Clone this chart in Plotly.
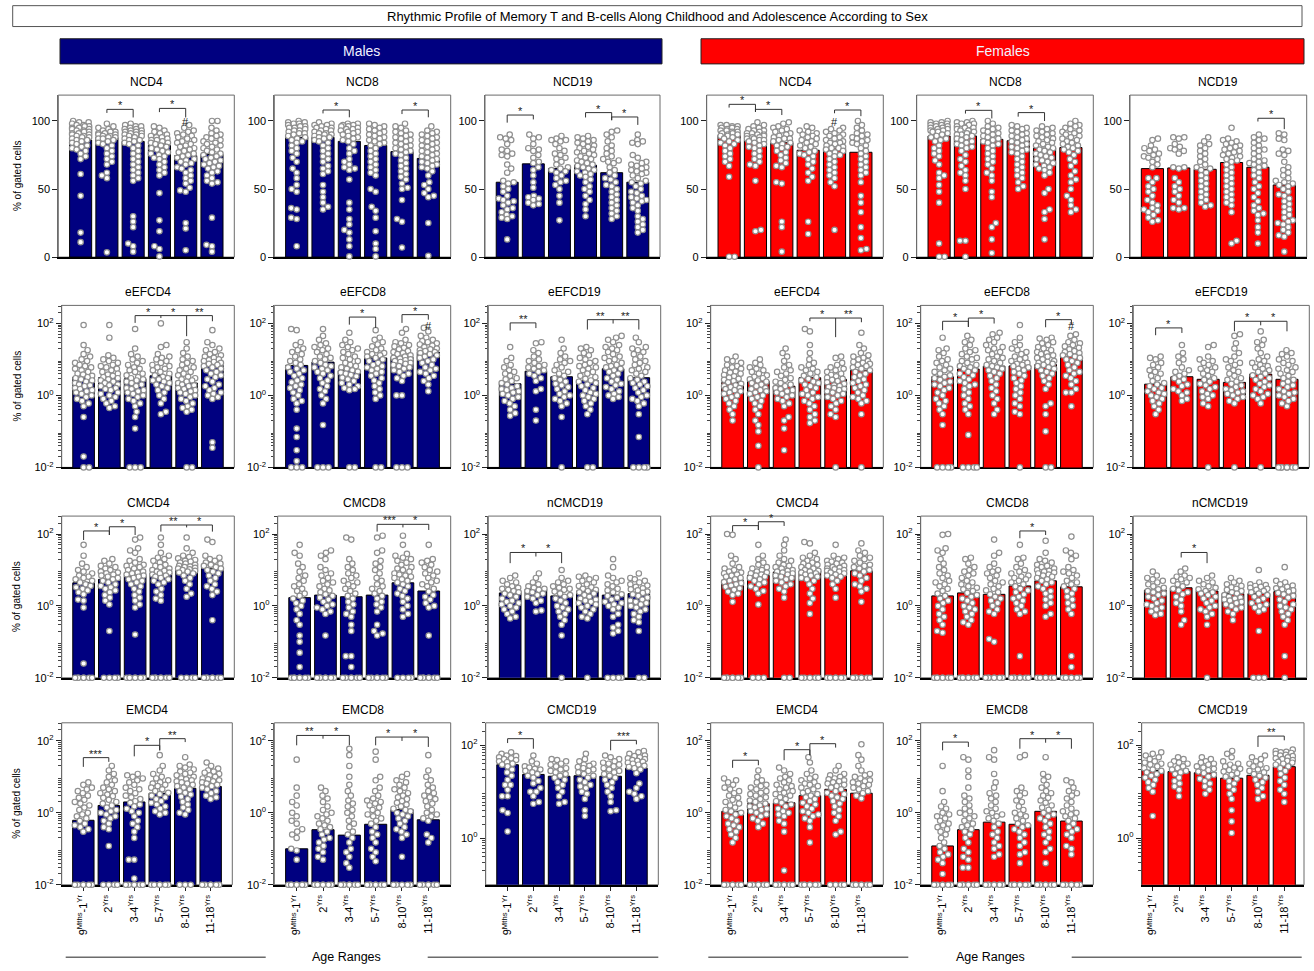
import numpy as np
import plotly.graph_objects as go

# ---------------------------------------------------------------- categories
age_groups = [0, 1, 2, 3, 4, 5]
age_labels = ["9<sup>Mths</sup>-1<sup>Yr</sup>", "2<sup>Yrs</sup>", "3-4<sup>Yrs</sup>",
              "5-7<sup>Yrs</sup>", "8-10<sup>Yrs</sup>", "11-18<sup>Yrs</sup>"]

# ================================================================ MALES
# ---- naive (linear %)
m_ncd4_bar = [86, 88, 85, 82, 74.5, 75.5]
m_ncd4_pts = [
    [100, 99, 99, 98, 97, 97, 96, 96, 95, 95, 94, 94, 93, 93, 92, 92, 91, 91, 90, 90, 89, 89, 88, 88, 87, 86, 86, 85, 84, 83, 82, 81, 80, 79, 78, 76, 74, 72, 61, 45, 18, 11],
    [98, 96, 95, 94, 93, 92, 92, 91, 91, 90, 90, 89, 89, 88, 88, 87, 87, 86, 85, 84, 83, 82, 80, 78, 76, 74, 72, 70, 68, 62, 60, 58, 3.5],
    [98, 97, 96, 96, 95, 94, 94, 93, 93, 92, 92, 91, 91, 90, 90, 89, 89, 88, 87, 86, 86, 85, 84, 83, 82, 80, 78, 76, 74, 72, 70, 68, 66, 64, 62, 60, 58, 56, 30, 26, 22, 10, 8, 4],
    [96, 95, 93, 92, 91, 90, 89, 88, 88, 87, 86, 86, 85, 84, 84, 83, 82, 81, 80, 79, 78, 77, 76, 75, 74, 73, 72, 70, 68, 66, 64, 62, 60, 47, 27, 19, 8, 6, 0.5],
    [97, 95, 93, 92, 91, 90, 89, 88, 87, 86, 85, 84, 83, 82, 81, 80, 79, 78, 77, 76, 75, 74, 73, 72, 71, 70, 69, 68, 66, 65, 64, 62, 60, 58, 56, 54, 51, 49, 48, 25, 21, 5],
    [100, 100, 95, 93, 91, 90, 89, 88, 87, 86, 85, 84, 83, 82, 81, 80, 79, 78, 77, 76, 75, 74, 73, 72, 71, 70, 69, 68, 67, 66, 65, 63, 62, 60, 58, 56, 55, 54, 29, 9, 8, 4],
]
m_ncd8_bar = [88, 88, 85, 82, 77.5, 72.5]
m_ncd8_pts = [
    [100, 99, 99, 98, 98, 97, 96, 96, 95, 95, 94, 93, 93, 92, 91, 91, 90, 89, 88, 87, 86, 85, 84, 82, 80, 78, 76, 73, 70, 65, 62, 58, 53, 50, 48, 36, 35, 29, 28, 8],
    [99, 98, 97, 97, 96, 95, 95, 94, 93, 93, 92, 91, 91, 90, 90, 89, 88, 88, 87, 86, 85, 84, 82, 80, 78, 76, 74, 72, 70, 67, 65, 63, 61, 53, 48, 44, 40, 37, 35],
    [98, 98, 97, 97, 96, 96, 95, 94, 94, 93, 92, 92, 91, 90, 89, 88, 87, 86, 85, 83, 80, 78, 76, 72, 70, 68, 66, 65, 64, 57, 40, 35, 28, 24, 20, 18, 13, 8, 0.5],
    [98, 97, 96, 95, 94, 93, 92, 91, 90, 89, 88, 87, 86, 85, 84, 83, 82, 80, 78, 76, 74, 72, 70, 68, 66, 64, 62, 60, 50, 48, 37, 34, 29, 19, 10, 6, 0.5],
    [98, 96, 95, 93, 92, 91, 90, 89, 88, 87, 86, 85, 84, 83, 82, 81, 80, 79, 78, 77, 76, 75, 73, 71, 69, 67, 65, 63, 61, 59, 57, 54, 51, 50, 42, 28, 26, 7],
    [96, 93, 92, 91, 90, 89, 88, 87, 86, 85, 84, 83, 82, 81, 80, 79, 78, 77, 76, 75, 74, 73, 72, 71, 70, 69, 68, 67, 66, 65, 63, 60, 55, 53, 50, 47, 45, 44, 25, 1],
]
m_ncd19_bar = [55, 68.5, 65, 67.5, 62, 55]
m_ncd19_pts = [
    [90, 88, 87, 86, 83, 79, 78, 76, 75, 74, 68, 65, 62, 56, 55, 54, 52, 50, 48, 45, 43, 42, 41, 40, 38, 36, 35, 33, 31, 30, 29, 28, 13],
    [90, 88, 87, 83, 80, 79, 78, 75, 73, 70, 69, 66, 64, 60, 55, 51, 45, 44, 43, 42, 40, 39, 38],
    [89, 87, 86, 86, 85, 83, 80, 78, 76, 75, 73, 72, 70, 68, 66, 65, 64, 63, 62, 60, 58, 56, 55, 53, 50, 45, 40, 27],
    [89, 88, 87, 86, 85, 84, 83, 82, 81, 80, 79, 78, 77, 76, 75, 74, 73, 72, 71, 70, 69, 68, 67, 66, 65, 64, 63, 62, 61, 60, 59, 57, 55, 52, 50, 48, 45, 42, 39, 35, 30],
    [93, 92, 90, 88, 85, 82, 80, 78, 76, 74, 72, 71, 70, 69, 66, 64, 62, 60, 58, 57, 55, 53, 52, 50, 48, 46, 44, 42, 40, 38, 36, 34, 32, 30, 28],
    [90, 86, 85, 84, 83, 75, 73, 70, 69, 68, 67, 66, 65, 64, 63, 62, 61, 60, 58, 56, 55, 54, 52, 50, 48, 47, 45, 44, 43, 42, 41, 40, 38, 36, 34, 30, 28, 26, 24, 22, 20, 18],
]
# ---- effector (log %)
m_eefcd4_bar = [3.2, 3.1, 2.9, 3.5, 2.2, 6.8]
m_eefcd4_pts = [
    [90, 25, 18, 14, 12, 10, 9, 8, 7, 6.5, 6, 5.5, 5, 4.5, 4, 3.8, 3.5, 3.2, 3, 2.8, 2.6, 2.4, 2.2, 2, 1.9, 1.8, 1.6, 1.5, 1.4, 1.3, 1.2, 1.1, 1, 0.9, 0.8, 0.7, 0.6, 0.5, 0.25, 0.02, 0, 0],
    [90, 40, 13, 11, 10, 9, 8, 7, 6.5, 6, 5.5, 5, 4.5, 4, 3.8, 3.5, 3.2, 3, 2.8, 2.6, 2.4, 2.2, 2, 1.9, 1.8, 1.6, 1.5, 1.4, 1.2, 1.1, 1, 0.9, 0.8, 0.7, 0.6, 0.5, 0.45],
    [70, 20, 14, 12, 10, 9, 8, 7, 6, 5.5, 5, 4.5, 4, 3.6, 3.2, 3, 2.8, 2.6, 2.4, 2.2, 2, 1.8, 1.6, 1.5, 1.4, 1.3, 1.2, 1.1, 1, 0.9, 0.8, 0.7, 0.6, 0.5, 0.35, 0.25, 0.12, 0, 0, 0],
    [100, 25, 22, 14, 12, 11, 10, 9, 8, 7, 6.5, 6, 5.5, 5, 4.5, 4, 3.6, 3.3, 3, 2.8, 2.6, 2.4, 2.2, 2, 1.8, 1.6, 1.4, 1.2, 1, 0.8, 0.6, 0.35, 0.3],
    [30, 20, 15, 12, 10, 9, 8, 7, 6, 5.5, 5, 4.5, 4, 3.6, 3.3, 3, 2.8, 2.6, 2.4, 2.2, 2, 1.9, 1.8, 1.6, 1.5, 1.4, 1.3, 1.2, 1.1, 1, 0.9, 0.8, 0.7, 0.6, 0.5, 0.45, 0.4, 0.35, 0, 0],
    [65, 30, 25, 20, 18, 16, 14, 13, 12, 11, 10, 9.5, 9, 8.5, 8, 7.5, 7, 6.5, 6, 5.5, 5, 4.5, 4, 3.6, 3.2, 2.8, 2.4, 2, 1.8, 1.6, 1.4, 1.2, 1.1, 1, 0.9, 0.8, 0.05, 0.035],
]
m_eefcd8_bar = [6.8, 8.4, 4.9, 11, 11.5, 16]
m_eefcd8_pts = [
    [70, 65, 30, 25, 20, 18, 16, 14, 12, 10, 9, 8, 7, 6, 5.5, 5, 4.5, 4, 3.5, 3, 2.6, 2.3, 2, 1.8, 1.6, 1.4, 1.2, 1, 0.8, 0.7, 0.6, 0.4, 0.12, 0.07, 0.03, 0.015, 0, 0, 0],
    [70, 45, 35, 28, 25, 22, 20, 18, 16, 14, 12, 11, 10, 9, 8, 7, 6.5, 6, 5.5, 5, 4.5, 4, 3.5, 3, 2.6, 2.2, 1.8, 1.5, 1.3, 1, 0.8, 0.6, 0.15, 0, 0, 0],
    [55, 35, 30, 25, 22, 20, 18, 16, 14, 12, 11, 10, 9, 8, 7, 6.5, 6, 5.5, 5, 4.6, 4.3, 4, 3.7, 3.4, 3.1, 2.8, 2.5, 2.2, 2, 1.8, 1.6, 1.5, 1.4, 0, 0],
    [65, 40, 35, 30, 26, 23, 20, 18, 16, 15, 14, 13, 12, 11, 10, 9, 8, 7, 6.5, 6, 5.5, 5, 4.5, 4, 3.5, 3, 2.6, 2.2, 1.8, 1.5, 1.2, 1, 0.8, 0, 0],
    [70, 55, 35, 30, 28, 25, 23, 21, 19, 17, 16, 15, 14, 13, 12, 11, 10.5, 10, 9.5, 9, 8.5, 8, 7.5, 7, 6.5, 6, 5.5, 5, 4.5, 4, 3.5, 3, 2.5, 1, 1, 0, 0, 0],
    [75, 60, 45, 40, 35, 32, 30, 28, 26, 24, 22, 20, 19, 18, 17, 16, 15, 14, 13, 12, 11, 10, 9, 8, 7, 6, 5.5, 5, 4.5, 4, 3.5, 3, 2.5, 2, 1.3],
]
m_eefcd19_bar = [2.1, 4.7, 3.3, 2.6, 5.5, 3.1]
m_eefcd19_pts = [
    [22, 11, 9, 7, 6, 5, 4.5, 4, 3.5, 3, 2.8, 2.5, 2.2, 2, 1.8, 1.6, 1.5, 1.4, 1.3, 1.2, 1.1, 1, 0.9, 0.8, 0.7, 0.6, 0.5, 0.4, 0.32, 0.27],
    [30, 28, 18, 15, 12, 10, 9, 8, 7, 6.5, 6, 5.5, 5, 4.5, 4, 3.5, 3, 2.5, 1.5, 1.3, 0.4, 0.2],
    [35, 20, 15, 12, 10, 9, 8, 7, 6, 5, 4.5, 4, 3.5, 3, 2.7, 2.4, 2.1, 1.9, 1.7, 1.5, 1.3, 1.1, 1, 0.9, 0.8, 0.7, 0.6, 0.5, 0.25, 0],
    [22, 20, 18, 15, 13, 11, 10, 9, 8, 7, 6.5, 6, 5.5, 5, 4.5, 4, 3.5, 3.2, 2.9, 2.6, 2.4, 2.2, 2, 1.8, 1.6, 1.4, 1.2, 1.1, 1, 0.9, 0.8, 0.7, 0.6, 0.5, 0.4, 0.3, 0, 0],
    [45, 40, 35, 30, 25, 22, 20, 18, 16, 14, 12, 11, 10, 9, 8, 7, 6.5, 6, 5.5, 5, 4.5, 4, 3.5, 3, 2.7, 2.4, 2.1, 1.9, 1.7, 1.5, 1.3, 1.1, 1, 0.9, 0.8],
    [40, 30, 22, 20, 18, 16, 14, 12, 10, 9, 8, 7, 6, 5.5, 5, 4.5, 4, 3.5, 3, 2.7, 2.4, 2.2, 2, 1.8, 1.6, 1.4, 1.2, 1, 0.9, 0.8, 0.7, 0.6, 0.5, 0.3, 0.07, 0, 0, 0, 0],
]
# ---- central memory (log %)
m_cmcd4_bar = [4.4, 5.5, 6.7, 8.3, 11.4, 11]
m_cmcd4_pts = [
    [50, 25, 15, 12, 10, 9, 8, 7, 6.5, 6, 5.5, 5, 4.5, 4, 3.6, 3.3, 3, 2.7, 2.4, 2.1, 1.5, 1.4, 0.9, 0.025, 0, 0, 0, 0, 0, 0, 0],
    [20, 18, 15, 13, 12, 11, 10, 9, 8.5, 8, 7.5, 7, 6.5, 6, 5.5, 5, 4.5, 4, 3.6, 3.3, 3, 2.7, 2.4, 2, 1.7, 1.4, 1.1, 0.2, 0, 0, 0, 0],
    [80, 70, 40, 35, 30, 20, 18, 16, 14, 13, 12, 11, 10, 9, 8.5, 8, 7.5, 7, 6.5, 6, 5.5, 5, 4.5, 4, 3.5, 3, 2.5, 2, 1.7, 1.4, 1.1, 0.9, 0.16, 0, 0, 0, 0, 0, 0, 0],
    [80, 50, 30, 25, 22, 20, 18, 16, 14, 13, 12, 11, 10, 9.5, 9, 8.5, 8, 7.5, 7, 6.5, 6, 5.5, 5, 4.5, 4, 3, 2.5, 2, 1.6, 1.4, 0, 0, 0, 0, 0, 0, 0],
    [80, 40, 30, 25, 23, 21, 19, 18, 17, 16, 15, 14, 13, 12.5, 12, 11.5, 11, 10.5, 10, 9.5, 9, 8.5, 8, 7, 6, 5, 4, 3, 2.2, 1.8, 0, 0, 0, 0],
    [70, 60, 25, 22, 20, 18, 16, 15, 14, 13, 12, 11, 10, 9, 8, 7, 6, 5, 4, 3.5, 3, 2.5, 2, 0.4, 0, 0, 0, 0, 0, 0, 0],
]
m_cmcd8_bar = [1.7, 2.0, 1.8, 2.0, 4.4, 2.6]
m_cmcd8_pts = [
    [50, 30, 25, 15, 12, 9, 7, 6, 5, 4, 3.5, 3, 2.6, 2.2, 1.9, 1.6, 1.4, 1.2, 1, 0.8, 0.6, 0.4, 0.3, 0.15, 0.1, 0.05, 0.02, 0, 0, 0, 0, 0, 0, 0],
    [35, 30, 25, 20, 12, 10, 8, 7, 6, 5, 4.5, 4, 3.5, 3, 2.7, 2.4, 2.1, 1.9, 1.7, 1.5, 1.3, 1.1, 1, 0.9, 0.8, 0.7, 0.6, 0.15, 0, 0, 0, 0, 0, 0, 0],
    [80, 70, 20, 15, 12, 10, 8, 7, 6, 5, 4.5, 4, 3.5, 3, 2.6, 2.2, 1.9, 1.6, 1.3, 1.1, 0.9, 0.7, 0.6, 0.5, 0.3, 0.2, 0.04, 0.04, 0.02, 0, 0, 0, 0, 0, 0],
    [90, 80, 35, 30, 18, 15, 12, 10, 8, 6, 5, 4, 3.5, 3, 2.6, 2.2, 1.9, 1.6, 1.3, 1.1, 0.9, 0.7, 0.3, 0.2, 0.17, 0.15, 0, 0, 0, 0, 0, 0],
    [90, 50, 28, 25, 22, 20, 18, 16, 14, 12, 11, 10, 9, 8, 7.5, 7, 6.5, 6, 5.5, 5, 4.5, 4, 3.5, 3, 2.6, 2.2, 1.9, 1.6, 1.3, 1, 0.8, 0.6, 0.5, 0, 0, 0, 0],
    [50, 20, 18, 16, 14, 12, 10, 9, 8, 7, 6, 5, 4.5, 4, 3.5, 3, 2.5, 2, 1.8, 1.5, 1.2, 1, 0.9, 0.15, 0, 0, 0, 0, 0, 0, 0],
]
m_ncmcd19_bar = [2.3, 2.9, 1.9, 2.6, 2.0, 2.2]
m_ncmcd19_pts = [
    [7, 6, 5, 4.5, 4, 3.5, 3.2, 3, 2.8, 2.6, 2.4, 2.2, 2, 1.8, 1.6, 1.4, 1.3, 1.2, 1.1, 1, 0.9, 0.8, 0.7, 0.6, 0.5, 0.45],
    [8, 6, 4.5, 4, 3.5, 3.2, 3, 2.8, 2.6, 2.4, 2.2, 2, 1.8, 1.6, 1.4, 1.2, 0.75, 0.7],
    [10, 6, 5, 4.5, 4, 3.5, 3.2, 3, 2.8, 2.5, 2.2, 2, 1.8, 1.6, 1.4, 1.2, 1, 0.9, 0.8, 0.7, 0.6, 0.5, 0.4, 0.3, 0.15, 0],
    [7, 6.5, 6, 5.5, 5, 4.5, 4, 3.6, 3.3, 3, 2.8, 2.6, 2.4, 2.2, 2, 1.8, 1.6, 1.5, 1.4, 1.3, 1.2, 1.1, 1, 0.9, 0.8, 0.7, 0.6, 0.5, 0.45, 0],
    [20, 12, 7, 6, 5, 4.5, 4, 3.5, 3, 2.7, 2.4, 2.1, 1.9, 1.7, 1.5, 1.3, 1.2, 1.1, 1, 0.9, 0.8, 0.6, 0.5, 0.3, 0.25, 0.2, 0.17, 0, 0, 0, 0],
    [8, 6, 5.5, 5, 4.5, 4, 3.7, 3.4, 3.1, 2.9, 2.7, 2.5, 2.3, 2.1, 1.9, 1.7, 1.5, 1.4, 1.3, 1.2, 1.1, 1, 0.9, 0.8, 0.7, 0.6, 0.5, 0.4, 0.35, 0.2, 0, 0],
]
# ---- effector memory (log %)
m_emcd4_bar = [0.62, 1.6, 2.0, 3.5, 4.8, 5.4]
m_emcd4_pts = [
    [7, 6, 5, 4.5, 4, 3.5, 3, 2.6, 2.3, 2, 1.8, 1.6, 1.4, 1.2, 1, 0.9, 0.8, 0.7, 0.6, 0.5, 0.45, 0.4, 0.35, 0.3, 0, 0, 0, 0, 0, 0],
    [20, 15, 12, 10, 8, 7, 6, 5, 4.5, 4, 3.5, 3.2, 2.9, 2.6, 2.3, 2, 1.8, 1.6, 1.4, 1.2, 1.1, 1, 0.9, 0.8, 0.7, 0.6, 0.5, 0.4, 0.35, 0.12, 0, 0, 0, 0],
    [12, 11, 10, 9, 8, 7, 6, 5, 4.5, 4, 3.5, 3, 2.7, 2.4, 2.1, 1.9, 1.7, 1.5, 1.3, 1.1, 1, 0.8, 0.6, 0.5, 0.4, 0.3, 0.2, 0.05, 0.05, 0.015, 0, 0, 0, 0, 0, 0],
    [40, 20, 15, 12, 10, 9, 8, 7, 6.5, 6, 5.5, 5, 4.5, 4, 3.6, 3.3, 3, 2.7, 2.4, 2.1, 1.9, 1.7, 1.5, 1.3, 1.1, 1, 0.9, 0, 0, 0, 0, 0, 0],
    [35, 22, 20, 18, 16, 14, 13, 12, 11, 10, 9, 8.5, 8, 7.5, 7, 6.5, 6, 5.5, 5, 4.5, 4, 3.6, 3.2, 2.8, 2.4, 2, 1.7, 1.4, 1.2, 1, 0.9, 0, 0, 0],
    [25, 20, 17, 15, 14, 13, 12, 11, 10, 9, 8.5, 8, 7.5, 7, 6.5, 6, 5.5, 5, 4.5, 4, 3.5, 3, 2.7, 2.4, 0, 0, 0, 0, 0, 0],
]
m_emcd8_bar = [0.1, 0.34, 0.24, 0.48, 1.23, 0.64]
m_emcd8_pts = [
    [30, 5, 3, 2, 1.6, 1, 0.8, 0.6, 0.5, 0.35, 0.3, 0.25, 0.2, 0.1, 0.09, 0.05, 0, 0, 0, 0, 0, 0, 0, 0],
    [5, 4, 3, 2.5, 2, 1.5, 1.2, 1, 0.9, 0.8, 0.7, 0.6, 0.5, 0.45, 0.4, 0.35, 0.3, 0.25, 0.2, 0.18, 0.15, 0.12, 0.1, 0.08, 0.06, 0.05, 0, 0, 0, 0, 0, 0, 0],
    [60, 40, 20, 10, 6, 4, 3, 2.2, 1.8, 1.5, 1.2, 1, 0.8, 0.6, 0.5, 0.4, 0.3, 0.25, 0.2, 0.15, 0.1, 0.08, 0.06, 0.04, 0.03, 0, 0, 0, 0, 0, 0, 0],
    [50, 30, 10, 8, 5, 4, 3, 2.5, 2.2, 2, 1.8, 1.6, 1.4, 1.2, 1, 0.9, 0.8, 0.7, 0.6, 0.5, 0.4, 0.3, 0.25, 0.2, 0.15, 0.1, 0.08, 0.06, 0.045, 0, 0, 0, 0, 0, 0, 0],
    [12, 10, 8, 7, 6, 5, 4.5, 4, 3.5, 3, 2.7, 2.4, 2.1, 1.9, 1.7, 1.5, 1.3, 1.2, 1.1, 1, 0.9, 0.8, 0.7, 0.6, 0.5, 0.4, 0.35, 0.3, 0.25, 0.2, 0.06, 0, 0, 0, 0, 0],
    [40, 15, 10, 8, 6, 5, 4, 3.5, 3, 2.7, 2.4, 2.1, 1.8, 1.5, 1.2, 1, 0.9, 0.8, 0.7, 0.6, 0.25, 0.2, 0.15, 0, 0, 0, 0, 0, 0],
]
m_cmcd19_bar = [38, 23.5, 21.5, 22, 21.5, 32]
m_cmcd19_pts = [
    [70, 65, 60, 58, 55, 52, 50, 48, 45, 43, 40, 38, 35, 30, 26, 22, 18, 14, 14, 11, 8, 8, 4, 3.5, 1.4],
    [60, 45, 40, 35, 33, 31, 30, 28, 26, 24, 22, 20, 17, 15, 12, 10, 10, 8, 6, 5.5],
    [50, 48, 45, 40, 38, 35, 32, 30, 28, 26, 24, 22, 20, 18, 16, 14, 12, 10, 8, 6, 5.5],
    [65, 50, 45, 40, 38, 36, 34, 32, 30, 28, 26, 24, 22, 20, 18, 16, 14, 13, 12, 10, 9, 7, 4, 3],
    [60, 55, 50, 45, 42, 40, 38, 35, 32, 30, 28, 26, 24, 22, 20, 18, 16, 14, 12, 10, 8, 6, 4, 3.8],
    [75, 70, 65, 60, 58, 55, 52, 50, 48, 46, 44, 42, 40, 38, 36, 34, 32, 30, 25, 15, 12, 10, 9, 8, 7],
]

# ================================================================ FEMALES
f_ncd4_bar = [89.5, 86, 84, 78.5, 80, 77]
f_ncd4_pts = [
    [97, 97, 96, 96, 95, 95, 94, 94, 93, 93, 92, 92, 91, 91, 90, 90, 89, 89, 88, 87, 86, 85, 84, 83, 82, 80, 78, 76, 74, 72, 70, 67, 59, 0.3, 0.3],
    [99, 97, 96, 95, 94, 93, 93, 92, 91, 91, 90, 90, 89, 89, 88, 88, 87, 87, 86, 86, 85, 84, 83, 82, 81, 80, 78, 76, 74, 72, 70, 68, 67, 56, 20, 19],
    [99, 98, 96, 95, 94, 93, 92, 91, 90, 89, 88, 87, 87, 86, 85, 84, 83, 82, 81, 80, 78, 77, 75, 73, 71, 69, 67, 66, 55, 54, 26, 22, 4],
    [96, 95, 93, 92, 91, 90, 89, 88, 87, 86, 85, 84, 83, 82, 81, 80, 78, 77, 76, 75, 74, 72, 70, 68, 65, 62, 59, 56, 26, 17],
    [95, 94, 93, 92, 91, 90, 89, 88, 87, 86, 85, 84, 84, 83, 82, 81, 80, 80, 79, 78, 77, 76, 75, 74, 72, 70, 68, 66, 64, 62, 60, 58, 55, 52, 20],
    [100, 97, 95, 93, 91, 90, 89, 88, 87, 86, 85, 84, 83, 82, 80, 78, 76, 74, 72, 70, 68, 66, 64, 62, 60, 55, 45, 40, 33, 22, 14, 6, 5],
]
f_ncd8_bar = [89, 89, 86.5, 85.5, 80, 80.5]
f_ncd8_pts = [
    [100, 99, 99, 98, 98, 97, 97, 96, 96, 95, 95, 94, 94, 93, 93, 92, 92, 91, 90, 89, 88, 87, 86, 85, 82, 80, 78, 76, 74, 71, 68, 62, 60, 58, 53, 48, 40, 10, 0.3, 0.3],
    [100, 99, 99, 98, 98, 97, 96, 95, 95, 94, 93, 93, 92, 91, 90, 90, 89, 88, 87, 86, 85, 84, 83, 82, 81, 80, 78, 75, 72, 70, 67, 64, 62, 60, 56, 50, 12, 12, 0.3],
    [100, 98, 96, 95, 94, 93, 92, 91, 90, 89, 88, 87, 86, 85, 84, 83, 82, 80, 78, 76, 74, 72, 70, 68, 65, 62, 60, 56, 48, 44, 25, 22, 13, 3],
    [97, 96, 95, 94, 93, 92, 91, 90, 89, 88, 87, 86, 85, 84, 83, 82, 81, 80, 79, 78, 77, 76, 74, 72, 70, 68, 66, 64, 62, 60, 58, 55, 52, 50],
    [96, 95, 94, 93, 92, 91, 90, 89, 88, 87, 86, 85, 84, 83, 82, 81, 80, 79, 78, 77, 76, 75, 74, 73, 72, 71, 70, 69, 68, 67, 66, 65, 64, 62, 60, 50, 47, 35, 33, 28, 13],
    [100, 98, 97, 96, 95, 94, 93, 92, 91, 90, 89, 88, 87, 86, 85, 84, 83, 82, 81, 80, 79, 78, 77, 75, 72, 70, 67, 63, 60, 57, 55, 50, 45, 42, 38, 35, 33],
]
f_ncd19_bar = [65, 65.5, 64.5, 69.5, 66, 53]
f_ncd19_pts = [
    [87, 86, 82, 80, 79, 78, 76, 75, 74, 73, 72, 70, 68, 66, 58, 58, 55, 52, 50, 48, 45, 42, 40, 38, 36, 35, 34, 33, 31, 29, 27, 26],
    [88, 88, 87, 83, 81, 80, 79, 78, 76, 66, 66, 65, 58, 55, 52, 50, 48, 45, 42, 40, 36, 36, 35],
    [88, 85, 83, 82, 80, 78, 76, 74, 72, 70, 68, 66, 65, 64, 62, 60, 58, 56, 54, 52, 50, 48, 46, 44, 42, 40, 38, 37],
    [95, 87, 86, 85, 84, 83, 82, 81, 80, 79, 78, 77, 76, 75, 74, 73, 72, 71, 70, 68, 66, 64, 62, 60, 58, 56, 54, 52, 50, 48, 46, 44, 42, 40, 38, 33, 12, 10],
    [90, 88, 87, 86, 84, 82, 80, 79, 78, 76, 74, 72, 71, 70, 69, 68, 67, 66, 64, 62, 60, 58, 55, 52, 50, 47, 44, 41, 38, 36, 34, 32, 31, 27, 22, 18, 10],
    [91, 90, 87, 86, 79, 78, 76, 75, 70, 66, 64, 62, 60, 58, 56, 55, 54, 53, 52, 50, 48, 46, 45, 43, 41, 39, 37, 35, 33, 31, 29, 27, 26, 25, 24, 22, 20, 18, 16, 15, 4],
]
f_eefcd4_bar = [2.3, 2.5, 1.8, 3.1, 2.8, 5]
f_eefcd4_pts = [
    [12, 10, 9, 8, 7, 6.5, 6, 5.5, 5, 4.6, 4.3, 4, 3.7, 3.4, 3.1, 2.9, 2.7, 2.5, 2.3, 2.1, 1.9, 1.8, 1.7, 1.6, 1.5, 1.4, 1.3, 1.2, 1.1, 1, 0.9, 0.8, 0.7, 0.6, 0.5, 0.4, 0.3, 0.2],
    [10, 8, 7, 6, 5.5, 5, 4.5, 4, 3.6, 3.3, 3, 2.8, 2.6, 2.4, 2.2, 2, 1.8, 1.6, 1.5, 1.4, 1.3, 1.2, 1.1, 1, 0.9, 0.8, 0.7, 0.6, 0.5, 0.4, 0.3, 0.2, 0.15, 0.1, 0.04, 0],
    [20, 15, 12, 9, 7, 6, 5, 4.5, 4, 3.5, 3, 2.7, 2.4, 2.2, 2, 1.8, 1.6, 1.5, 1.4, 1.3, 1.2, 1.1, 1, 0.9, 0.8, 0.7, 0.6, 0.5, 0.25, 0.2, 0.12, 0.03],
    [70, 60, 25, 15, 10, 8, 7, 6, 5.5, 5, 4.5, 4, 3.5, 3.2, 2.9, 2.6, 2.4, 2.2, 2, 1.8, 1.6, 1.4, 1.2, 1.1, 1, 0.9, 0.8, 0.7, 0.6, 0.5, 0.4, 0.3, 0.25, 0.2, 0.17],
    [12, 11, 8, 7, 6, 5.5, 5, 4.5, 4, 3.7, 3.4, 3.1, 2.9, 2.7, 2.5, 2.3, 2.1, 1.9, 1.8, 1.7, 1.6, 1.5, 1.4, 1.3, 1.2, 1.1, 1, 0.9, 0.8, 0.7, 0.6, 0.5, 0.4, 0.3, 0.25, 0],
    [55, 25, 20, 15, 13, 12, 11, 10, 9, 8.5, 8, 7.5, 7, 6.5, 6, 5.5, 5, 4.5, 4, 3.6, 3.2, 2.8, 2.5, 2.2, 2, 1.8, 1.6, 1.4, 1.2, 1, 0.9, 0.8, 0.7, 0.6, 0.3, 0],
]
f_eefcd8_bar = [3.3, 5.4, 6.5, 6.6, 7.2, 12.2]
f_eefcd8_pts = [
    [40, 20, 18, 15, 12, 10, 9, 8, 7, 6, 5.5, 5, 4.5, 4, 3.6, 3.3, 3, 2.7, 2.4, 2.2, 2, 1.8, 1.6, 1.4, 1.2, 1, 0.8, 0.7, 0.6, 0.5, 0.4, 0.3, 0.15, 0, 0, 0, 0],
    [45, 35, 30, 25, 20, 18, 16, 14, 12, 11, 10, 9, 8, 7, 6.5, 6, 5.5, 5, 4.5, 4, 3.6, 3.2, 2.8, 2.5, 2.2, 2, 1.8, 1.5, 1.2, 1, 0.8, 0.6, 0.5, 0.4, 0.3, 0.08, 0, 0, 0, 0],
    [55, 50, 40, 35, 30, 25, 22, 20, 18, 16, 14, 12, 11, 10, 9, 8, 7, 6.5, 6, 5.5, 5, 4.5, 4, 3.5, 3, 2.5, 2, 1.6, 1.3, 1, 0.8, 0.6, 0.4, 0.3],
    [90, 40, 30, 25, 20, 18, 16, 14, 12, 11, 10, 9, 8, 7.5, 7, 6.5, 6, 5.5, 5, 4.5, 4, 3.5, 3, 2.6, 2.2, 1.8, 1.5, 1.2, 1, 0.8, 0.6, 0.5, 0.35, 0.3, 0],
    [40, 38, 35, 30, 28, 25, 22, 20, 18, 16, 15, 14, 13, 12, 11, 10, 9, 8.5, 8, 7.5, 7, 6.5, 6, 5.5, 5, 4.5, 4, 3.5, 3, 2.5, 2, 1.5, 0.6, 0.5, 0.3, 0.1, 0, 0],
    [50, 45, 35, 30, 28, 25, 23, 21, 19, 17, 16, 15, 14, 13, 12, 11, 10, 9, 8, 7, 6, 5, 4.5, 4, 3.5, 3, 2.5, 2, 1.5, 1.2, 1.2, 0.5],
]
f_eefcd19_bar = [2.05, 3.3, 2.8, 2.3, 3.9, 2.8]
f_eefcd19_pts = [
    [12, 11, 10, 8, 7, 6, 5, 4.5, 4, 3.5, 3, 2.5, 2.2, 2, 1.8, 1.6, 1.5, 1.3, 1.2, 1.1, 1, 0.9, 0.8, 0.7, 0.6, 0.5, 0.4, 0.3],
    [25, 15, 12, 10, 8, 6, 5, 4.5, 4, 3.5, 3, 2.8, 2.4, 2, 1.8, 1.5, 1.3, 1.2, 1, 0.8, 0.7],
    [25, 22, 12, 10, 9, 8, 7, 6, 5.5, 5, 4.5, 4, 3.5, 3, 2.7, 2.4, 2.1, 1.9, 1.7, 1.5, 1.3, 1.1, 1, 0.9, 0.8, 0.6, 0.5, 0],
    [50, 45, 28, 20, 15, 12, 10, 9, 8, 7, 6, 5, 4.5, 4, 3.5, 3, 2.7, 2.4, 2.1, 1.9, 1.7, 1.5, 1.4, 1.3, 1.2, 1.1, 1, 0.9, 0.8, 0.7, 0.6, 0],
    [60, 35, 30, 25, 20, 15, 12, 10, 9, 8, 7, 6.5, 6, 5.5, 5, 4.5, 4, 3.6, 3.3, 3, 2.7, 2.4, 2.1, 1.9, 1.7, 1.5, 1.3, 1.1, 1, 0.9, 0.8, 0.6, 0],
    [18, 15, 14, 12, 10, 9, 8, 7, 6, 5.5, 5, 4.5, 4, 3.5, 3, 2.7, 2.4, 2.1, 1.9, 1.7, 1.5, 1.3, 1.2, 1.1, 1, 0.9, 0.8, 0.7, 0.6, 0.5, 0, 0, 0, 0, 0, 0, 0],
]
f_cmcd4_bar = [5.2, 7.1, 8.8, 9.4, 11, 9.5]
f_cmcd4_pts = [
    [100, 95, 25, 20, 15, 12, 11, 10, 9, 8.5, 8, 7.5, 7, 6.5, 6, 5.5, 5, 4.6, 4.3, 4, 3.7, 3.4, 3.1, 2.8, 2.5, 2.2, 2, 1.3, 0, 0, 0, 0, 0, 0, 0],
    [50, 25, 20, 16, 14, 12, 11, 10, 9, 8.5, 8, 7.5, 7, 6.5, 6, 5.5, 5, 4.5, 4, 3.5, 3, 2.6, 2.2, 1.1, 0, 0, 0],
    [70, 50, 35, 25, 20, 18, 16, 14, 13, 12, 11, 10, 9.5, 9, 8.5, 8, 7.5, 7, 6.5, 6, 5.5, 5, 4.5, 4, 3.5, 3, 2.5, 1.7, 0, 0],
    [60, 55, 30, 25, 22, 20, 18, 16, 15, 14, 13, 12, 11, 10, 9.5, 9, 8.5, 8, 7.5, 7, 6.5, 6, 5.5, 5, 4, 3, 2.2, 1.6, 1.2, 0.6, 0, 0, 0, 0, 0],
    [50, 25, 22, 20, 18, 17, 16, 15, 14, 13, 12, 11.5, 11, 10.5, 10, 9.5, 9, 8.5, 8, 7.5, 7, 6.5, 6, 5, 4, 3, 1.7, 0, 0, 0, 0, 0, 0],
    [55, 35, 30, 25, 22, 20, 18, 16, 14, 13, 12, 11, 10, 9, 8, 7, 6, 5, 4, 3.5, 3, 2.5, 1.3, 0, 0, 0, 0, 0, 0, 0],
]
f_cmcd8_bar = [1.9, 2.3, 2.1, 3.6, 5.0, 3.4]
f_cmcd8_pts = [
    [100, 95, 40, 35, 30, 20, 15, 12, 10, 8, 7, 6, 5, 4.5, 4, 3.5, 3, 2.6, 2.2, 1.9, 1.6, 1.4, 1.2, 1, 0.8, 0.6, 0.5, 0.4, 0.3, 0.2, 0.18, 0, 0, 0, 0, 0, 0, 0],
    [22, 20, 15, 12, 10, 9, 8, 7, 6, 5, 4.5, 4, 3.5, 3.2, 2.9, 2.6, 2.3, 2, 1.8, 1.6, 1.4, 1.2, 1, 0.9, 0.8, 0.7, 0.6, 0.5, 0.4, 0.35, 0.3, 0, 0, 0, 0, 0, 0, 0],
    [70, 30, 25, 15, 12, 10, 9, 8, 7, 6, 5, 4.5, 4, 3.5, 3, 2.7, 2.4, 2.1, 1.8, 1.6, 1.4, 1.2, 1, 0.8, 0.7, 0.6, 0.12, 0.1, 0, 0, 0, 0, 0, 0, 0],
    [50, 22, 20, 15, 12, 10, 9, 8, 7, 6.5, 6, 5.5, 5, 4.5, 4, 3.5, 3, 2.7, 2.4, 2.1, 1.8, 1.6, 1.4, 1.2, 1, 0.8, 0.7, 0.6, 0.04, 0, 0, 0, 0, 0, 0, 0],
    [65, 30, 20, 18, 16, 14, 13, 12, 11, 10, 9.5, 9, 8.5, 8, 7.5, 7, 6.5, 6, 5.5, 5, 4.5, 4, 3.5, 3, 2.6, 2.2, 1.8, 1.5, 1.2, 1, 0.6, 0.5, 0, 0, 0, 0, 0, 0],
    [85, 35, 30, 25, 20, 12, 10, 9, 8, 7, 6, 5, 4.5, 4, 3.5, 3, 2.6, 2.2, 1.8, 1.5, 1.2, 1, 0.8, 0.6, 0.04, 0.02, 0, 0, 0, 0, 0, 0, 0],
]
f_ncmcd19_bar = [2.75, 3.2, 2.6, 2.2, 2.2, 2.5]
f_ncmcd19_pts = [
    [9, 7, 6, 5.5, 5, 4.5, 4, 3.5, 3.2, 2.9, 2.6, 2.4, 2.2, 2, 1.8, 1.6, 1.4, 1.2, 1.1, 1, 0.9, 0.8, 0.7, 0.6, 0.55],
    [11, 9, 7, 6.5, 6, 5.5, 5, 4.5, 4, 3.5, 3, 2.7, 2.4, 2.1, 1.8, 1.5, 1.2, 1, 0.7, 0.4, 0.3],
    [7, 6, 5, 4.5, 4, 3.5, 3.2, 2.9, 2.6, 2.4, 2.2, 2, 1.8, 1.6, 1.4, 1.2, 1, 0.9, 0.8, 0.7, 0.6, 0.5, 0.3, 0],
    [6, 5, 4.5, 4, 3.6, 3.3, 3, 2.8, 2.6, 2.4, 2.2, 2, 1.8, 1.7, 1.6, 1.5, 1.4, 1.3, 1.2, 1.1, 1, 0.9, 0.8, 0.7, 0.6, 0.4],
    [10, 4.5, 4, 3.8, 3.6, 3.4, 3.2, 3, 2.8, 2.6, 2.4, 2.2, 2, 1.8, 1.6, 1.4, 1.2, 1.1, 1, 0.9, 0.8, 0.7, 0.2, 0, 0, 0],
    [12, 5, 4.5, 4, 3.7, 3.4, 3.1, 2.9, 2.7, 2.5, 2.3, 2.1, 1.9, 1.7, 1.5, 1.3, 1.1, 1, 0.9, 0.8, 0.7, 0.6, 0.5, 0.4, 0.3, 0.04, 0],
]
f_emcd4_bar = [1.1, 1.8, 1.9, 3.0, 4.5, 3.5]
f_emcd4_pts = [
    [9, 8, 7, 6, 5, 4.5, 4, 3.5, 3, 2.6, 2.3, 2, 1.8, 1.6, 1.4, 1.2, 1.1, 1, 0.9, 0.8, 0.7, 0.6, 0.5, 0.45, 0.4, 0.35, 0.3, 0.25, 0.2, 0.15, 0, 0, 0, 0, 0, 0],
    [15, 10, 8, 7, 6, 5.5, 5, 4.5, 4, 3.6, 3.3, 3, 2.7, 2.4, 2.2, 2, 1.8, 1.6, 1.5, 1.4, 1.3, 1.2, 1.1, 1, 0.9, 0.8, 0.7, 0.6, 0.5, 0.4, 0, 0, 0, 0, 0, 0],
    [18, 15, 12, 10, 9, 8, 7, 6, 5.5, 5, 4.5, 4, 3.6, 3.3, 3, 2.7, 2.4, 2.1, 1.9, 1.7, 1.5, 1.3, 1.1, 1, 0.9, 0.8, 0.6, 0.5, 0.3, 0.025, 0, 0, 0, 0, 0, 0, 0],
    [35, 25, 15, 12, 10, 9, 8, 7, 6.5, 6, 5.5, 5, 4.5, 4, 3.6, 3.3, 3, 2.7, 2.4, 2.1, 1.9, 1.7, 1.5, 1.3, 1.1, 1, 0.9, 0.8, 0.7, 0.6, 0.4, 0.15, 0, 0, 0, 0, 0, 0, 0],
    [20, 15, 12, 11, 10, 9, 8.5, 8, 7.5, 7, 6.5, 6, 5.5, 5, 4.5, 4, 3.6, 3.3, 3, 2.7, 2.4, 2.1, 1.8, 1.5, 1.2, 1, 0.8, 0.6, 0.3, 0.25, 0, 0, 0, 0],
    [80, 40, 30, 20, 15, 12, 11, 10, 9, 8, 7.5, 7, 6.5, 6, 5.5, 5, 4.5, 4, 3.5, 3, 2.5, 0, 0, 0, 0, 0, 0, 0],
]
f_emcd8_bar = [0.12, 0.34, 0.55, 0.48, 1.1, 0.59]
f_emcd8_pts = [
    [20, 4, 2, 1.5, 1.3, 1, 0.9, 0.8, 0.7, 0.6, 0.5, 0.45, 0.4, 0.35, 0.3, 0.25, 0.2, 0.15, 0.12, 0.1, 0.08, 0.07, 0.06, 0.05, 0.04, 0.02, 0, 0, 0, 0, 0, 0],
    [35, 30, 15, 10, 5, 3, 2.5, 2, 1.6, 1.3, 1.1, 1, 0.9, 0.8, 0.7, 0.6, 0.5, 0.45, 0.4, 0.35, 0.3, 0.25, 0.2, 0.15, 0.1, 0.08, 0.06, 0.05, 0.03, 0.03, 0, 0, 0, 0, 0, 0, 0],
    [55, 35, 30, 12, 7, 5, 3.5, 3, 2.5, 2, 1.6, 1.3, 1.1, 1, 0.9, 0.8, 0.7, 0.6, 0.5, 0.4, 0.3, 0.25, 0.2, 0.15, 0.12, 0.1, 0.07, 0.06, 0, 0, 0, 0, 0, 0, 0, 0],
    [40, 35, 5, 4, 3.5, 3, 2.2, 2, 1.5, 1.2, 1, 0.9, 0.8, 0.7, 0.6, 0.5, 0.45, 0.4, 0.35, 0.3, 0.25, 0.2, 0.15, 0.12, 0.08, 0.07, 0.04, 0, 0, 0, 0, 0, 0, 0],
    [35, 12, 10, 8, 6, 5, 4, 3.5, 3, 2.6, 2.2, 1.9, 1.6, 1.4, 1.2, 1, 0.9, 0.8, 0.7, 0.6, 0.5, 0.4, 0.3, 0.25, 0.2, 0.15, 0.1, 0.08, 0.04, 0, 0, 0, 0, 0, 0, 0],
    [8, 7, 5, 4, 3.5, 3, 2.5, 2, 1.6, 1.3, 1.1, 1, 0.9, 0.8, 0.7, 0.6, 0.5, 0.4, 0.35, 0.3, 0.25, 0.2, 0.12, 0.1, 0.07, 0, 0, 0, 0, 0, 0],
]
f_cmcd19_bar = [28.5, 27, 25.5, 19.5, 22.5, 34.5]
f_cmcd19_pts = [
    [70, 65, 60, 55, 50, 45, 42, 40, 38, 35, 32, 30, 28, 26, 24, 22, 20, 18, 16, 14, 12, 10, 3],
    [55, 50, 45, 42, 40, 38, 35, 32, 30, 28, 26, 24, 20, 17, 15, 13, 11, 8],
    [55, 50, 45, 42, 40, 38, 35, 33, 31, 29, 27, 25, 23, 21, 19, 17, 15, 13, 11, 9],
    [75, 65, 55, 45, 40, 38, 35, 33, 31, 29, 27, 25, 23, 21, 19, 17, 15, 13, 11, 9, 7, 4, 2.3, 1.3],
    [60, 55, 50, 45, 40, 38, 35, 32, 30, 28, 26, 24, 22, 20, 18, 16, 14, 12, 10, 8, 7],
    [80, 75, 72, 70, 68, 65, 62, 60, 58, 55, 52, 50, 48, 46, 44, 42, 40, 38, 35, 32, 28, 24, 20, 17, 14, 11, 9, 6],
]

# ---------------------------------------------------------------- significance marks
# (groups joined by one bracket, height of the bar as axis fraction,
#  lower end of each vertical leg, labels between neighbouring legs)
brk = {
    "m_ncd4": [([1, 2], 0.912, [0.89, 0.862], ["*"]), ([3, 4], 0.918, [0.895, 0.862], ["*"])],
    "m_ncd8": [([1, 2], 0.908, [0.887, 0.863], ["*"]), ([4, 5], 0.908, [0.883, 0.863], ["*"])],
    "m_ncd19": [([0, 1], 0.877, [0.83, 0.85], ["*"]), ([3, 4], 0.892, [0.862, 0.845], ["*"]),
                ([4, 5], 0.865, [0.845, 0.816], ["*"])],
    "f_ncd4": [([0, 1], 0.943, [0.923, 0.896], ["*"]), ([1, 2], 0.912, [0.896, 0.877], ["*"]),
               ([4, 5], 0.908, [0.888, 0.87], ["*"])],
    "f_ncd8": [([1, 2], 0.906, [0.886, 0.856], ["*"]), ([3, 4], 0.892, [0.867, 0.84], ["*"])],
    "f_ncd19": [([4, 5], 0.857, [0.837, 0.79], ["*"])],
    "m_eefcd4": [([2, 3, 4, 5], 0.937, [0.892, 0.922, 0.81, 0.902], ["*", "*", "**"])],
    "m_eefcd8": [([2, 3], 0.928, [0.881, 0.861], ["*"]), ([4, 5], 0.943, [0.892, 0.912], ["*"])],
    "m_eefcd19": [([0, 1], 0.892, [0.845, 0.86], ["**"]), ([3, 4, 5], 0.912, [0.851, 0.888, 0.851], ["**", "**"])],
    "f_eefcd4": [([3, 4, 5], 0.922, [0.902, 0.804, 0.896], ["*", "**"])],
    "f_eefcd8": [([0, 1], 0.902, [0.847, 0.867], ["*"]), ([1, 2], 0.922, [0.867, 0.888], ["*"]),
                 ([4, 5], 0.912, [0.865, 0.881], ["*"])],
    "f_eefcd19": [([0, 1], 0.861, [0.816, 0.83], ["*"]), ([3, 4, 5], 0.902, [0.84, 0.877, 0.84], ["*", "*"])],
    "m_cmcd4": [([0, 1], 0.908, [0.852, 0.883], ["*"]), ([1, 2], 0.934, [0.883, 0.883], ["*"]),
                ([3, 4, 5], 0.945, [0.904, 0.93, 0.904], ["**", "*"])],
    "m_cmcd8": [([3, 4, 5], 0.949, [0.904, 0.93, 0.914], ["***", "*"])],
    "m_ncmcd19": [([0, 1, 2], 0.775, [0.709, 0.75, 0.709], ["*", "*"])],
    "f_cmcd4": [([0, 1], 0.941, [0.904, 0.914], ["*"]), ([1, 2], 0.965, [0.914, 0.939], ["*"])],
    "f_cmcd8": [([3, 4], 0.908, [0.863, 0.883], ["*"])],
    "f_ncmcd19": [([1, 2], 0.775, [0.744, 0.709], ["*"])],
    "m_emcd4": [([0, 1], 0.785, [0.728, 0.759], ["***"]), ([2, 3], 0.861, [0.793, 0.83], ["*"]),
                ([3, 4], 0.902, [0.83, 0.881], ["**"])],
    "m_emcd8": [([0, 1, 2], 0.922, [0.861, 0.902, 0.861], ["**", "*"]),
                ([3, 4, 5], 0.912, [0.861, 0.888, 0.851], ["*", "*"])],
    "m_cmcd19": [([0, 1], 0.902, [0.875, 0.84], ["*"]), ([4, 5], 0.892, [0.83, 0.867], ["***"])],
    "f_emcd4": [([0, 1], 0.769, [0.722, 0.738], ["*"]), ([2, 3], 0.834, [0.769, 0.8], ["*"]),
                ([3, 4], 0.871, [0.8, 0.847], ["*"])],
    "f_emcd8": [([0, 1], 0.881, [0.83, 0.851], ["*"]), ([3, 4, 5], 0.902, [0.84, 0.877, 0.84], ["*", "*"])],
    "f_cmcd19": [([4, 5], 0.918, [0.851, 0.892], ["**"])],
}
hash_marks = {"m_ncd4": (4, 0.835), "f_ncd4": (4, 0.837), "m_eefcd8": (5, 0.871), "f_eefcd8": (5, 0.871)}

# ---------------------------------------------------------------- panel grid
row_titles = [["NCD4", "NCD8", "NCD19"], ["eEFCD4", "eEFCD8", "eEFCD19"],
              ["CMCD4", "CMCD8", "nCMCD19"], ["EMCD4", "EMCD8", "CMCD19"]]
row_keys = [["ncd4", "ncd8", "ncd19"], ["eefcd4", "eefcd8", "eefcd19"],
            ["cmcd4", "cmcd8", "ncmcd19"], ["emcd4", "emcd8", "cmcd19"]]
data = globals()

W, H = 1314, 971
row_top = [95.7, 307.3, 519.3, 727.3]
row_bot = [258.7, 470.3, 682.0, 890.3]
col_left = [[58.3, 274.3, 485.0, 706.7, 916.7, 1130.0],
            [61.7, 274.3, 488.3, 710.7, 920.7, 1133.3],
            [61.7, 277.7, 488.3, 710.7, 920.7, 1133.3],
            [61.7, 274.3, 485.7, 710.7, 920.7, 1141.7]]
col_right = [[234.3, 450.7, 660.0, 883.3, 1093.3, 1306.7],
             [234.3, 450.7, 660.7, 883.3, 1093.3, 1309.3],
             [234.3, 450.7, 660.7, 883.3, 1093.3, 1306.7],
             [232.3, 450.7, 658.3, 883.3, 1093.3, 1304.0]]

NAVY, RED = "#000080", "#ff0000"
FONT = "Arial, 'Liberation Sans', sans-serif"
LINE_GRAY = "#6b6b6b"


def swarm_offsets(ypix, diam=5.4, limit=8.5):
    """Horizontal beeswarm offsets (pixels) so that dots overlap as little as possible."""
    order = np.argsort(ypix)
    px_list, py_list = [], []
    out = np.zeros(len(ypix))
    steps = np.arange(0.5, limit + 0.01, 0.5)
    for n, i in enumerate(order):
        y = ypix[i]
        sign = 1 if n % 2 else -1
        cands = [0.0]
        for s in steps:
            cands += [sign * s, -sign * s]
        px = np.array(px_list)
        py = np.array(py_list)
        chosen, best_cost, fallback = None, None, 0.0
        for c in cands:
            if len(px):
                d2 = (px - c) ** 2 + (py - y) ** 2
                cost = float(np.sum(np.clip(diam ** 2 - d2, 0, None)))
            else:
                cost = 0.0
            if cost == 0.0:
                chosen = c
                break
            if best_cost is None or cost < best_cost:
                best_cost, fallback = cost, c
        if chosen is None:
            chosen = fallback
        out[i] = chosen
        px_list.append(chosen)
        py_list.append(y)
    return out


def paper_note(x_px, y_px, text, size, color="black", angle=0):
    return dict(x=x_px / W, y=1 - y_px / H, xref="paper", yref="paper", text=text,
                showarrow=False, xanchor="center", yanchor="middle", textangle=angle,
                font=dict(family=FONT, size=size, color=color))


fig = go.Figure()
shapes, annotations = [], []
layout_axes = {}

minor_vals = [k * 10.0 ** e for e in range(-2, 3) for k in range(2, 10)]

k = 0
for r in range(4):
    for c in range(6):
        k += 1
        sex = "m" if c < 3 else "f"
        key = f"{sex}_{row_keys[r][c % 3]}"
        title = row_titles[r][c % 3]
        bars = data[f"{key}_bar"]
        pts = data[f"{key}_pts"]
        color = NAVY if sex == "m" else RED

        L, R = col_left[r][c], col_right[r][c]
        T, B = row_top[r], row_bot[r]
        width_px, height_px = R - L, B - T
        xr = [-0.42, 5.75] if key == "f_cmcd19" else [-0.85, 5.85]
        px_per_x = width_px / (xr[1] - xr[0])

        if r == 0:
            ytype, yr = "linear", [0, 119]
        elif row_keys[r][c % 3] == "cmcd19":
            ytype, yr = "log", [-1, 2.48]
        else:
            ytype, yr = "log", [-2, 2.5]

        sfx = "" if k == 1 else str(k)
        xa, ya = f"x{sfx}", f"y{sfx}"

        fig.add_trace(go.Bar(
            x=age_groups, y=bars, width=0.84, xaxis=xa, yaxis=ya,
            marker=dict(color=color, line=dict(color="black", width=1)),
            hoverinfo="skip"))

        xs, ys = [], []
        for g, vals in zip(age_groups, pts):
            v = np.array(vals, dtype=float)
            if ytype == "log":
                floor = 10.0 ** yr[0]
                vv = np.maximum(v, floor)
                ypix = (np.log10(vv) - yr[0]) * height_px / (yr[1] - yr[0])
            else:
                vv = v
                ypix = vv * height_px / (yr[1] - yr[0])
            off = swarm_offsets(ypix)
            xs.extend(g + off / px_per_x)
            ys.extend(vv)
        fig.add_trace(go.Scatter(
            x=xs, y=ys, mode="markers", xaxis=xa, yaxis=ya, cliponaxis=False,
            marker=dict(size=5.4, color="white", line=dict(color="#8f8f8f", width=1.2)),
            hoverinfo="skip"))

        xdom = [L / W, R / W]
        ydom = [1 - B / H, 1 - T / H]
        last_row = r == 3
        layout_axes[f"xaxis{sfx}"] = dict(
            domain=xdom, range=xr, anchor=ya, showgrid=False, zeroline=False,
            showline=True, linecolor="black", linewidth=1.6, layer="below traces",
            tickmode="array", tickvals=age_groups, ticktext=age_labels,
            showticklabels=last_row, ticks="outside" if last_row else "",
            ticklen=4, tickcolor="#222", tickangle=-90,
            tickfont=dict(family=FONT, size=11, color="black"), fixedrange=True)
        yaxis = dict(
            domain=ydom, type=ytype, range=yr, anchor=xa, showgrid=False,
            zeroline=False, showline=True, linecolor=LINE_GRAY, linewidth=1,
            ticks="outside", ticklen=5, tickcolor="#222", tickwidth=1,
            tickfont=dict(family=FONT, size=11, color="black"), fixedrange=True,
            layer="below traces")
        if ytype == "linear":
            yaxis.update(tickmode="array", tickvals=[0, 50, 100], ticktext=["0", "50", "100"])
        else:
            if yr[0] < -1.5:
                tv, tt = [0.01, 1, 100], ["10<sup>-2</sup>", "10<sup>0</sup>", "10<sup>2</sup>"]
            else:
                tv, tt = [1, 100], ["10<sup>0</sup>", "10<sup>2</sup>"]
            mv = [m for m in minor_vals if 10 ** yr[0] < m < 10 ** yr[1]]
            yaxis.update(tickmode="array", tickvals=tv, ticktext=tt,
                         minor=dict(tickmode="array", tickvals=mv, ticks="outside",
                                    ticklen=2.5, tickcolor="#444", tickwidth=0.8))
        layout_axes[f"yaxis{sfx}"] = yaxis

        # panel frame
        shapes.append(dict(type="rect", xref="paper", yref="paper",
                           x0=xdom[0], x1=xdom[1], y0=ydom[0], y1=ydom[1],
                           line=dict(color=LINE_GRAY, width=1), layer="below"))
        # panel title
        annotations.append(paper_note((L + R) / 2, T - 13, title, 12))
        # y axis title for the first column
        if c == 0:
            annotations.append(paper_note(17, (T + B) / 2, "% of gated cells", 10, angle=-90))

        # significance brackets
        for groups, ytop, drops, labels in brk.get(key, []):
            shapes.append(dict(type="line", xref=xa, yref=f"{ya} domain",
                               x0=groups[0], x1=groups[-1], y0=ytop, y1=ytop,
                               line=dict(color="#333", width=1)))
            for g, d in zip(groups, drops):
                shapes.append(dict(type="line", xref=xa, yref=f"{ya} domain",
                                   x0=g, x1=g, y0=ytop, y1=d,
                                   line=dict(color="#333", width=1)))
            for a, b, lab in zip(groups[:-1], groups[1:], labels):
                annotations.append(dict(x=(a + b) / 2, y=ytop, xref=xa, yref=f"{ya} domain",
                                        text=lab, showarrow=False, xanchor="center",
                                        yanchor="bottom", yshift=-4,
                                        font=dict(family=FONT, size=11, color="#222")))
        if key in hash_marks:
            g, yh = hash_marks[key]
            annotations.append(dict(x=g, y=yh, xref=xa, yref=f"{ya} domain", text="#",
                                    showarrow=False, xanchor="center", yanchor="middle",
                                    font=dict(family=FONT, size=11, color="#222")))

# ---------------------------------------------------------------- header
shapes.append(dict(type="rect", xref="paper", yref="paper", x0=12.7 / W, x1=1302 / W,
                   y0=1 - 26.7 / H, y1=1 - 5.7 / H, line=dict(color="#555", width=1)))
annotations.append(paper_note(657, 16.5,
                              "Rhythmic Profile of Memory T and B-cells Along Childhood and Adolescence According to Sex", 13))
for x0, x1, col, label in [(60, 662, NAVY, "Males"), (701, 1304, RED, "Females")]:
    shapes.append(dict(type="rect", xref="paper", yref="paper", x0=x0 / W, x1=x1 / W,
                       y0=1 - 64.3 / H, y1=1 - 39 / H, fillcolor=col,
                       line=dict(color="#222", width=1)))
    annotations.append(paper_note((x0 + x1) / 2, 51.7, label, 14, color="#f2f2ff"))

# ---------------------------------------------------------------- footer
for cx, segs in [(346.7, [(65.7, 265.7), (427.7, 658.3)]), (990, [(708.3, 908.3), (1071.7, 1301.7)])]:
    for a, b in segs:
        shapes.append(dict(type="line", xref="paper", yref="paper", x0=a / W, x1=b / W,
                           y0=1 - 963.3 / H, y1=1 - 963.3 / H, line=dict(color="#6b6b6b", width=1.5)))
    annotations.append(paper_note(cx, 962.5, "Age Ranges", 12.5))

fig.update_layout(
    width=W, height=H, margin=dict(l=0, r=0, t=0, b=0),
    paper_bgcolor="white", plot_bgcolor="white", showlegend=False,
    shapes=shapes, annotations=annotations, font=dict(family=FONT),
    **layout_axes)

fig.write_html("out.html")
